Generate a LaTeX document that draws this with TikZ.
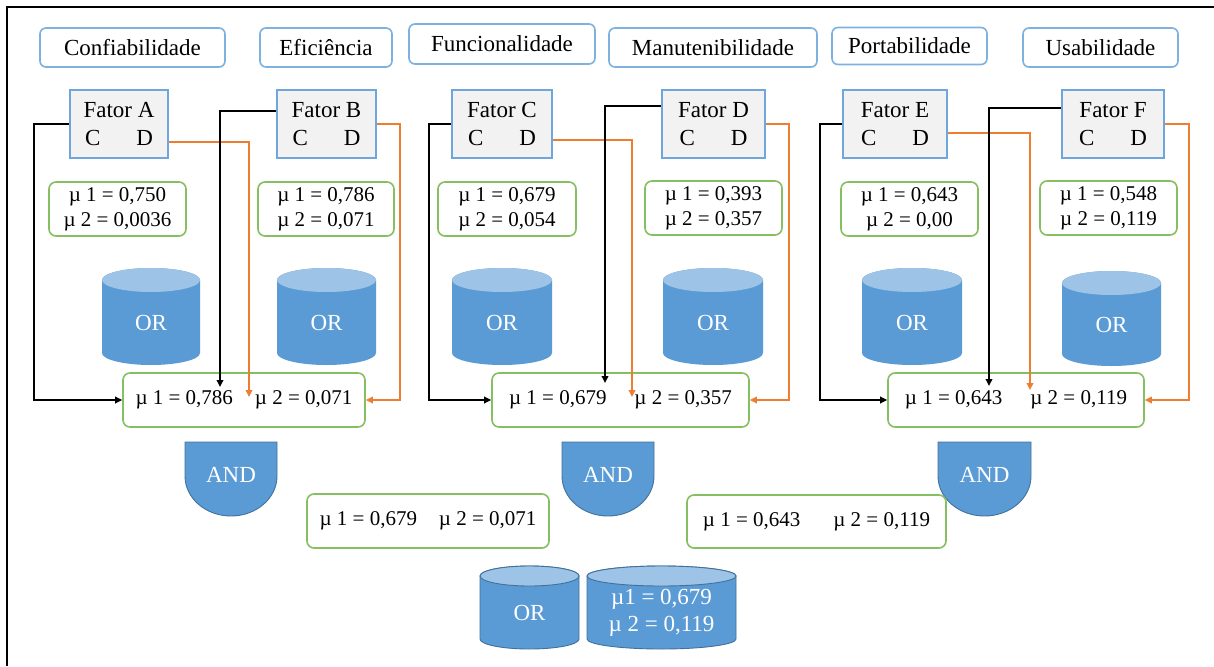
\documentclass[tikz,border=0pt]{standalone}
\usepackage{fontspec}
\setmainfont{LiberationSerif}[Extension=.ttf, UprightFont=*-Regular, BoldFont=*-Bold]
\usetikzlibrary{arrows.meta,calc}
\definecolor{catblue}{HTML}{7DB1E0}
\definecolor{fatblue}{HTML}{6FA6DB}
\definecolor{fatfill}{HTML}{F2F2F2}
\definecolor{mugreen}{HTML}{86BF62}
\definecolor{cylblue}{HTML}{5B9BD5}
\definecolor{cyltopc}{HTML}{9DC3E6}
\definecolor{darkblue}{HTML}{41719C}
\definecolor{orangeline}{HTML}{ED7D31}
\newcommand{\mycyl}[7]{%
  \pgfmathsetmacro\cx{(#2+#3)/2}%
  \pgfmathsetmacro\rx{(#3-#2)/2}%
  \pgfmathsetmacro\yt{#4+#6}%
  \pgfmathsetmacro\yb{#5-#6}%
  \pgfmathsetmacro\ym{(\yt+#5)/2}%
  \path[cylbody] (#2,\yt) -- (#2,\yb) arc[start angle=180,end angle=0,x radius=\rx,y radius=#6] -- (#3,\yt) arc[start angle=0,end angle=-180,x radius=\rx,y radius=#6] -- cycle;
  \path[cyltop] (\cx,\yt) ellipse[x radius=\rx,y radius=#6];
  \node[cyltext] (#1) at (\cx,\ym) {#7};
}
\newcommand{\myand}[4]{%
  \pgfmathsetmacro\cx{(#2+#3)/2}%
  \pgfmathsetmacro\rx{(#3-#2)/2}%
  \path[andshape] (#2,#4) -- (#3,#4) -- (#3,#4+34) arc[start angle=0,end angle=180,x radius=\rx,y radius=40] -- cycle;
  \node[cyltext] (#1) at (\cx,#4+33) {AND};
}
\begin{document}
\begin{tikzpicture}[x=1pt,y=-1pt,
  every node/.style={font=\fontsize{21}{25}\selectfont, inner sep=0pt},
  cat/.style={draw=catblue, line width=1.6pt, rounded corners=6pt, fill=white, font=\fontsize{23}{27}\selectfont},
  fator/.style={draw=fatblue, line width=1.6pt, fill=fatfill, align=center, font=\fontsize{23}{28}\selectfont},
  mubox/.style={draw=mugreen, line width=1.6pt, rounded corners=7pt, fill=white, align=center},
  cylbody/.style={fill=cylblue},
  cyltop/.style={fill=cyltopc},
  cyltext/.style={text=white, align=center, font=\fontsize{23}{27}\selectfont},
  andshape/.style={fill=cylblue, draw=darkblue, line width=0.9pt},
  blk/.style={draw=black, line width=1.8pt, -{Triangle[length=7pt,width=6.5pt]}},
  org/.style={draw=orangeline, line width=1.8pt, -{Triangle[length=7pt,width=6.5pt]}}
]
\useasboundingbox (0,0) rectangle (1214,666);
\fill[white] (0,0) rectangle (1214,666);
\draw[line width=2.2pt] (7,666) -- (7,7) -- (1214,7);

% categories
\node[cat, minimum width=185pt, minimum height=39pt] (kConf) at (132.5,47.5) {Confiabilidade};
\node[cat, minimum width=132pt, minimum height=39pt] (kEfic) at (326,47.5) {Eficiência};
\node[cat, minimum width=186pt, minimum height=40pt] (kFunc) at (502,44) {Funcionalidade};
\node[cat, minimum width=208pt, minimum height=39pt] (kManu) at (713,47.5) {Manutenibilidade};
\node[cat, minimum width=155pt, minimum height=37pt] (kPort) at (909.5,46) {Portabilidade};
\node[cat, minimum width=155pt, minimum height=39pt] (kUsab) at (1100.5,47.5) {Usabilidade};

% fatores
\node[fator, minimum width=98pt, minimum height=68pt] (fA) at (119,124) {Fator A\\C\hspace{36pt}D};
\node[fator, minimum width=99pt, minimum height=68pt] (fB) at (326.5,124) {Fator B\\C\hspace{36pt}D};
\node[fator, minimum width=100pt, minimum height=68pt] (fC) at (502,124) {Fator C\\C\hspace{36pt}D};
\node[fator, minimum width=103pt, minimum height=68pt] (fD) at (713.5,124) {Fator D\\C\hspace{36pt}D};
\node[fator, minimum width=104pt, minimum height=68pt] (fE) at (895,124) {Fator E\\C\hspace{36pt}D};
\node[fator, minimum width=102pt, minimum height=68pt] (fF) at (1113,124) {Fator F\\C\hspace{36pt}D};

% mu boxes
\node[mubox, minimum width=137pt, minimum height=54pt] (mA) at (117.5,209) {µ 1 = 0,750\\µ 2 = 0,0036};
\node[mubox, minimum width=136pt, minimum height=54pt] (mB) at (326,209) {µ 1 = 0,786\\µ 2 = 0,071};
\node[mubox, minimum width=138pt, minimum height=54pt] (mC) at (507,209) {µ 1 = 0,679\\µ 2 = 0,054};
\node[mubox, minimum width=137pt, minimum height=54pt] (mD) at (713.5,208) {µ 1 = 0,393\\µ 2 = 0,357};
\node[mubox, minimum width=137pt, minimum height=54pt] (mE) at (909.5,209) {µ 1 = 0,643\\µ 2 = 0,00};
\node[mubox, minimum width=137pt, minimum height=54pt] (mF) at (1108.5,208) {µ 1 = 0,548\\µ 2 = 0,119};

% OR cylinders
\mycyl{or1}{102}{200}{268}{365}{12}{OR}
\mycyl{or2}{277}{376}{268}{365}{12}{OR}
\mycyl{or3}{452}{552}{268}{365}{12}{OR}
\mycyl{or4}{663}{763}{268}{365}{12}{OR}
\mycyl{or5}{862}{962}{268}{365}{12}{OR}
\mycyl{or6}{1062}{1161}{271}{366}{12}{OR}

% combination boxes
\node[mubox, minimum width=242pt, minimum height=54pt] (c1) at (244,400) {µ 1 = 0,786\hspace{22pt}µ 2 = 0,071};
\node[mubox, minimum width=257pt, minimum height=54pt] (c2) at (620.5,400) {µ 1 = 0,679\hspace{28pt}µ 2 = 0,357};
\node[mubox, minimum width=256pt, minimum height=54pt] (c3) at (1016,400) {µ 1 = 0,643\hspace{28pt}µ 2 = 0,119};

% AND gates
\myand{and1}{185}{277}{442}
\myand{and2}{562}{654}{442}
\myand{and3}{938}{1031}{442}

% bottom boxes
\node[mubox, minimum width=242pt, minimum height=54pt] (b1) at (428,521) {µ 1 = 0,679\hspace{22pt}µ 2 = 0,071};
\node[mubox, minimum width=259pt, minimum height=53pt] (b2) at (816.5,521.5) {µ 1 = 0,643\hspace{33pt}µ 2 = 0,119};

% bottom cylinders
\tikzset{cylbody/.style={fill=cylblue, draw=darkblue, line width=0.9pt}, cyltop/.style={fill=cyltopc, draw=darkblue, line width=0.9pt}}
\mycyl{orF}{480}{579}{566}{649}{10}{OR}
\mycyl{res}{587}{736}{566}{649}{10}{µ1 = 0,679\\µ 2 = 0,119}

% free arrow ends
\coordinate (t1) at (220,387);
\coordinate (t2) at (249,397);
\coordinate (t3) at (605,383);
\coordinate (t4) at (632,397);
\coordinate (t5) at (989,386);
\coordinate (t6) at (1030,390);

% connectors group 1
\draw[org] ([yshift=-18pt]fA.east) -| (t2);
\draw[blk] (fA.west) -- ++(-35,0) |- (c1.west);
\draw[blk] ([yshift=13pt]fB.west) -| (t1);
\draw[org] (fB.east) -- ++(23,0) |- (c1.east);
% group 2
\draw[org] ([yshift=-16pt]fC.east) -| (t4);
\draw[blk] (fC.west) -- ++(-22,0) |- (c2.west);
\draw[blk] ([yshift=18pt]fD.west) -| (t3);
\draw[org] (fD.east) -- ++(23,0) |- (c2.east);
% group 3
\draw[org] ([yshift=-9pt]fE.east) -| (t6);
\draw[blk] (fE.west) -- ++(-22,0) |- (c3.west);
\draw[blk] ([yshift=16pt]fF.west) -| (t5);
\draw[org] (fF.east) -- ++(24,0) |- (c3.east);
\end{tikzpicture}
\end{document}
